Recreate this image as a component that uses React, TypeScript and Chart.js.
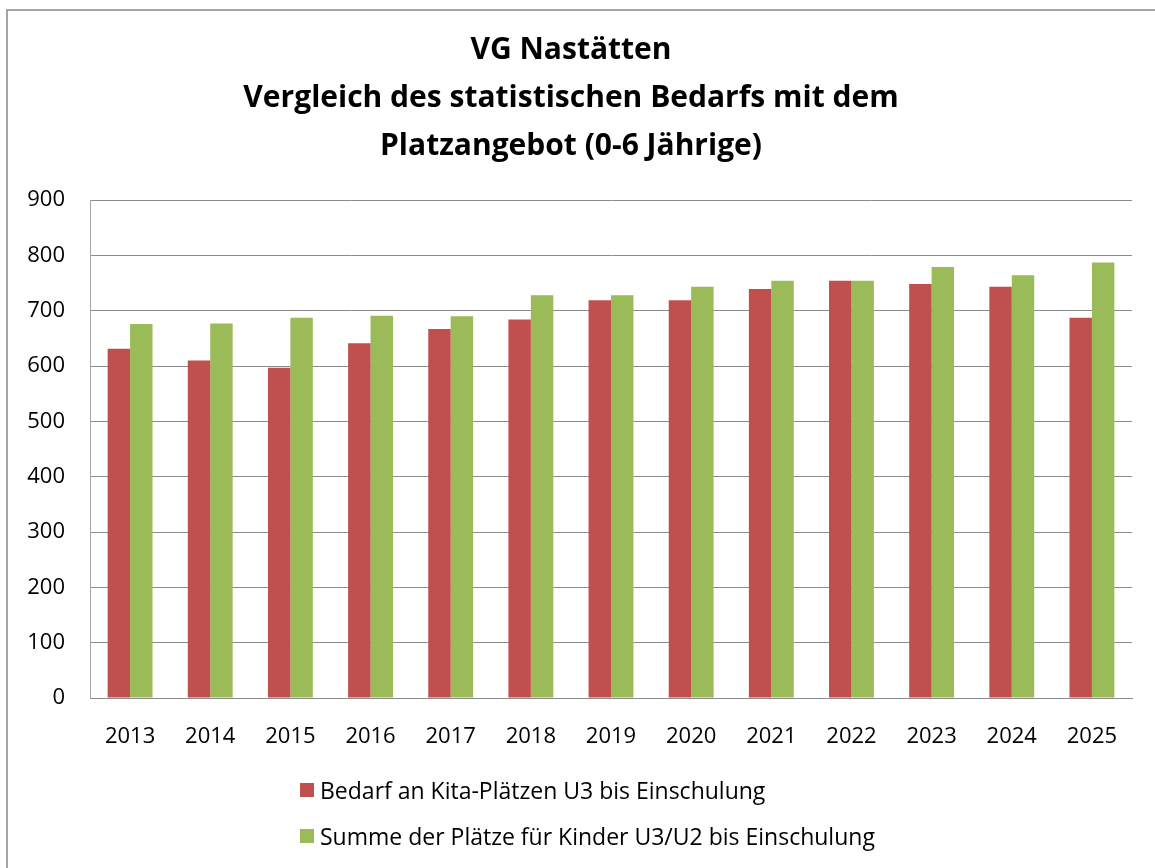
import React, { useEffect, useRef } from "react";
import { Chart, registerables } from "chart.js";

Chart.register(...registerables);

const years = ["2013", "2014", "2015", "2016", "2017", "2018", "2019", "2020", "2021", "2022", "2023", "2024", "2025"];
const bedarf = [631, 610, 597, 641, 667, 684, 719, 719, 739, 754, 748, 743, 687];
const plaetze = [676, 677, 687, 691, 690, 728, 728, 743, 754, 754, 779, 764, 787];
const seriesLabels = ["Bedarf an Kita-Plätzen U3 bis Einschulung", "Summe der Plätze für Kinder U3/U2 bis Einschulung"];
const titleLines = ["VG Nastätten", "Vergleich des statistischen Bedarfs mit dem", "Platzangebot (0-6 Jährige)"];
const colors = ["#C0504D", "#9BBB59"];

const FONT = "'Open Sans', sans-serif";

export default function App() {
  const ref = useRef<HTMLCanvasElement | null>(null);

  useEffect(() => {
    document.body.style.margin = "0";
    const ctx = ref.current!;
    const chart = new Chart(ctx, {
      type: "bar",
      data: {
        labels: years,
        datasets: [
          { label: seriesLabels[0], data: bedarf, backgroundColor: colors[0], borderWidth: 0, barPercentage: 1.0, categoryPercentage: 0.56 },
          { label: seriesLabels[1], data: plaetze, backgroundColor: colors[1], borderWidth: 0, barPercentage: 1.0, categoryPercentage: 0.56 },
        ],
      },
      options: {
        responsive: false,
        animation: false,
        layout: { padding: { left: 10, right: 23, top: 0, bottom: 110 } },
        plugins: {
          legend: { display: false },
          tooltip: { enabled: false },
          title: {
            display: true,
            text: titleLines,
            color: "#000",
            font: { family: FONT, size: 30, weight: "bold", lineHeight: 1.6 },
            padding: { top: 26, bottom: 30 },
          },
        },
        scales: {
          x: {
            grid: { display: false },
            border: { display: true, color: "#8c8c8c", width: 1 },
            ticks: { color: "#000", font: { family: FONT, size: 22 }, padding: 18, maxRotation: 0 },
            afterFit: (s: any) => { s.height = 60; },
          },
          y: {
            min: 0,
            max: 900,
            ticks: { stepSize: 100, color: "#000", font: { family: FONT, size: 22 }, padding: 25 },
            grid: { color: "#8c8c8c", lineWidth: 1, drawTicks: false },
            border: { display: true, color: "#a6a6a6", width: 1 },
            afterFit: (s: any) => { s.width = 80; },
          },
        },
      },
    });
    return () => chart.destroy();
  }, []);

  return (
    <div style={{ position: "relative", width: 1155, height: 868, background: "#fff", overflow: "hidden" }}>
      <canvas ref={ref} width={1155} height={868} style={{ display: "block" }} />
      <div style={{ position: "absolute", left: 6, top: 9, width: 1200, height: 900, borderLeft: "2px solid #a6a6a6", borderTop: "2px solid #a6a6a6", pointerEvents: "none" }} />
      <div style={{ position: "absolute", left: 300, top: 776, fontFamily: FONT, fontSize: 23, color: "#000" }}>
        {seriesLabels.map((l, i) => (
          <div key={l} style={{ display: "flex", alignItems: "center", height: 28, marginBottom: i === 0 ? 18 : 0 }}>
            <span style={{ display: "inline-block", width: 14, height: 14, background: colors[i], marginRight: 6 }} />
            <span style={{ whiteSpace: "nowrap" }}>{l}</span>
          </div>
        ))}
      </div>
    </div>
  );
}
